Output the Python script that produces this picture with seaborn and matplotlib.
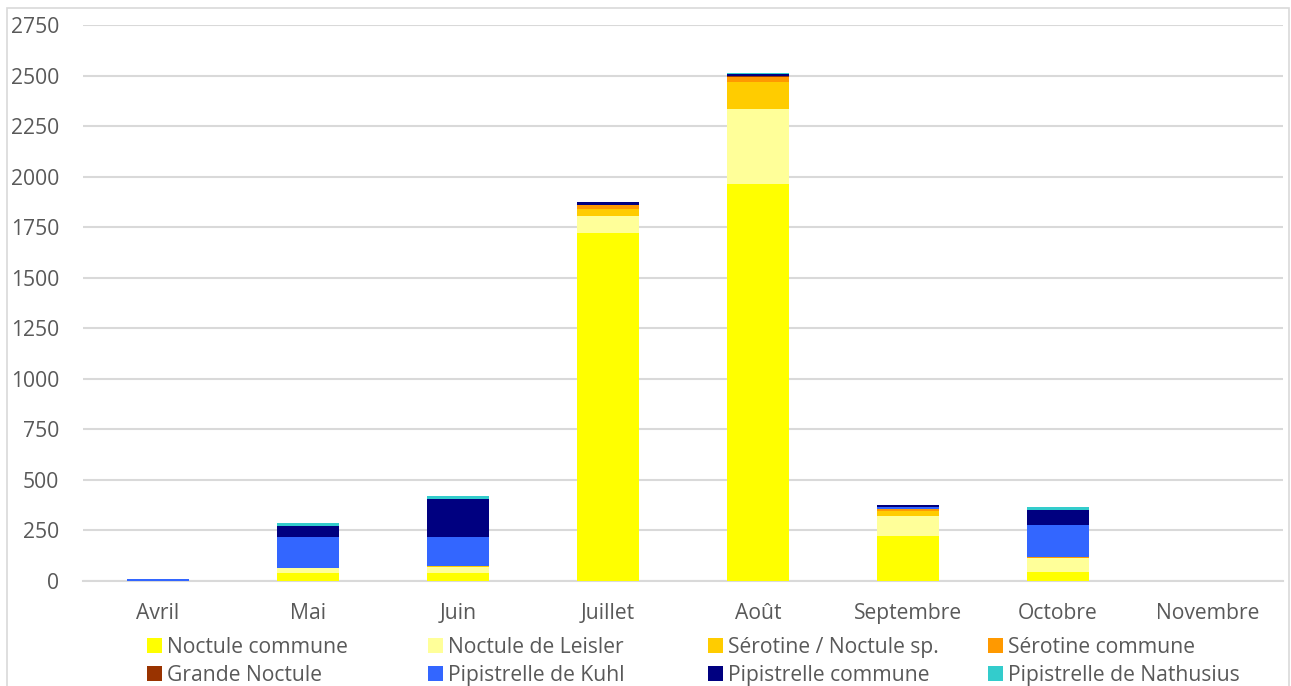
import matplotlib
matplotlib.use('Agg')
import matplotlib.pyplot as plt
import matplotlib.patches as mpatches
import seaborn as sns
import numpy as np

# Data
months = ['Avril', 'Mai', 'Juin', 'Juillet', 'Août', 'Septembre', 'Octobre', 'Novembre']
species = ['Noctule commune', 'Noctule de Leisler', 'Sérotine / Noctule sp.', 'Sérotine commune',
           'Grande Noctule', 'Pipistrelle de Kuhl', 'Pipistrelle commune', 'Pipistrelle de Nathusius']
noctule_commune = [0, 42, 40, 1723, 1963, 224, 46, 0]
noctule_leisler = [0, 20, 30, 82, 371, 97, 69, 0]
serotine_noctule_sp = [0, 0, 5, 35, 134, 25, 0, 0]
serotine_commune = [0, 0, 0, 20, 26, 10, 4, 0]
grande_noctule = [0, 0, 0, 0, 4, 0, 0, 0]
pip_kuhl = [10, 158, 143, 0, 0, 10, 158, 0]
pip_commune = [0, 50, 188, 14, 10, 10, 74, 0]
pip_nathusius = [2, 16, 12, 2, 3, 2, 13, 0]
yticks = [0, 250, 500, 750, 1000, 1250, 1500, 1750, 2000, 2250, 2500, 2750]

series = [noctule_commune, noctule_leisler, serotine_noctule_sp, serotine_commune,
          grande_noctule, pip_kuhl, pip_commune, pip_nathusius]
colors = ['#FFFF00', '#FFFF99', '#FFCC00', '#FF9900', '#993300', '#3366FF', '#000080', '#33CCCC']

sns.set_theme(style='white')
plt.rcParams['font.family'] = ['Open Sans', 'DejaVu Sans']
text_color = '#595959'
fs = 15.2

fig = plt.figure(figsize=(12.91, 6.86), dpi=100)
ax = fig.add_axes([83 / 1291, 1 - 581 / 686, 1200 / 1291, 556 / 686])

bottom = np.zeros(len(months))
handles = []
for name, vals, col in zip(species, series, colors):
    sns.barplot(x=months, y=vals, bottom=bottom, color=col, width=0.41,
                saturation=1, linewidth=0, edgecolor='none', zorder=3, ax=ax)
    bottom = bottom + np.array(vals)
    handles.append(mpatches.Patch(facecolor=col, edgecolor='none', label=name))

ax.set_ylim(0, 2750)
ax.set_xlim(-0.5, len(months) - 0.5)
ax.set_yticks(yticks)
ax.set_yticklabels([str(t) for t in yticks])
ax.yaxis.grid(True, color='#d9d9d9', linewidth=1.5)
ax.set_axisbelow(True)
for s in ['top', 'right', 'left']:
    ax.spines[s].set_visible(False)
ax.spines['bottom'].set_color('#d9d9d9')
ax.spines['bottom'].set_linewidth(1.5)
ax.spines['bottom'].set_zorder(0.5)
ax.tick_params(axis='y', length=0, pad=17, labelsize=fs, labelcolor=text_color)
ax.tick_params(axis='x', length=0, pad=16, labelsize=fs, labelcolor=text_color)
ax.set_xlabel('')
ax.set_ylabel('')

# legend: 4 columns x 2 rows, evenly spaced
col_x = [147, 428, 708, 988]
for i, x in enumerate(col_x):
    fig.legend(handles=[handles[i], handles[i + 4]], loc='upper left',
               bbox_to_anchor=(x / 1291, 1 - 637 / 686), frameon=False,
               fontsize=fs, labelcolor=text_color, handlelength=0.7,
               handleheight=0.7, handletextpad=0.25, borderpad=0,
               borderaxespad=0, labelspacing=0.32)

# chart area border
fig.patches.append(mpatches.Rectangle((7 / 1291, -0.01), 1282 / 1291, 1 - 8 / 686 + 0.01,
                                      transform=fig.transFigure, fill=False,
                                      edgecolor='#d9d9d9', linewidth=1.2))

fig.savefig('out.png', dpi=100)
